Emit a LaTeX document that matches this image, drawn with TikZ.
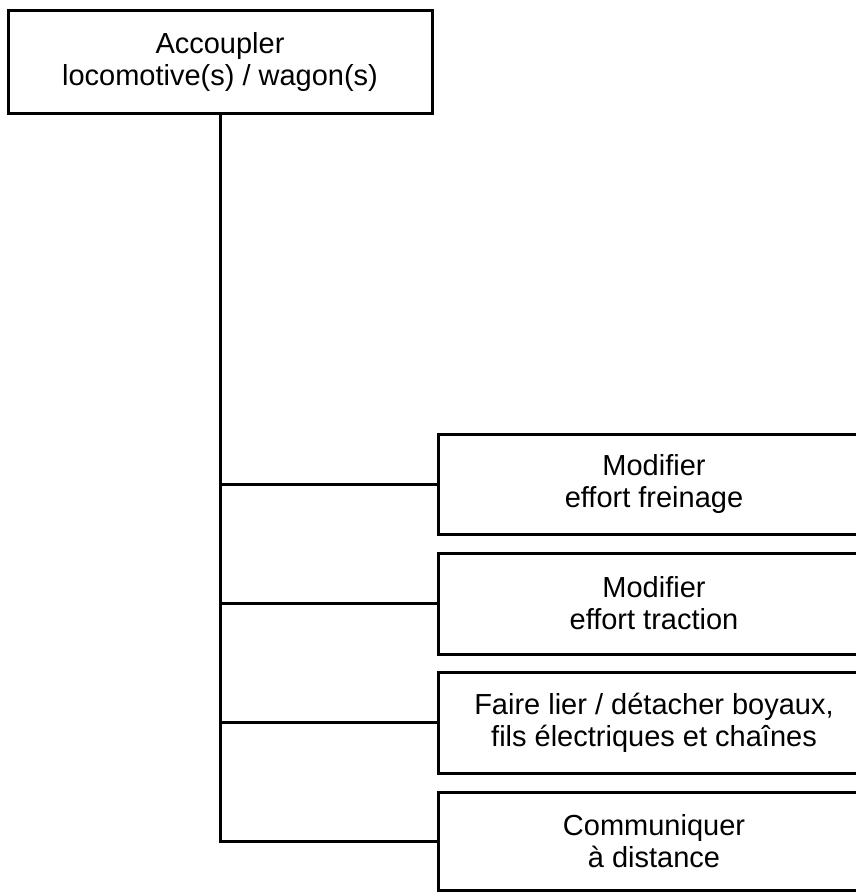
\documentclass[tikz,border=0pt]{standalone}
\usepackage{fontspec}
\setmainfont{Liberation Sans}
\begin{document}
\begin{tikzpicture}[x=1pt,y=-1pt,
  box/.style={draw, line width=3pt, rectangle, align=center, inner sep=0pt,
    font=\fontsize{29}{32}\selectfont},
  rbox/.style={box, minimum width=432pt},
  conn/.style={line width=3pt, line join=miter}]
\useasboundingbox (0,0) rectangle (856,892);
\clip (0,0) rectangle (856,892);
\node[box, minimum width=424pt, minimum height=103pt] (top) at (220,61.5)
  {Accoupler\\locomotive(s) / wagon(s)};
\node[rbox, minimum height=100pt] (b1) at (654,484) {Modifier\\effort freinage};
\node[rbox, minimum height=101pt] (b2) at (654,603.5) {Modifier\\effort traction};
\node[rbox, minimum height=101pt] (b3) at (654,722.5) {Faire lier / détacher boyaux,\\fils électriques et chaînes};
\node[rbox, minimum height=98pt] (b4) at (654,841) {Communiquer\\à distance};
\draw[conn] (top.south) -- (top.south |- b4.west) -- (b4.west);
\draw[conn] (top.south |- b1.west) -- (b1.west);
\draw[conn] (top.south |- b2.west) -- (b2.west);
\draw[conn] (top.south |- b3.west) -- (b3.west);
\end{tikzpicture}
\end{document}
